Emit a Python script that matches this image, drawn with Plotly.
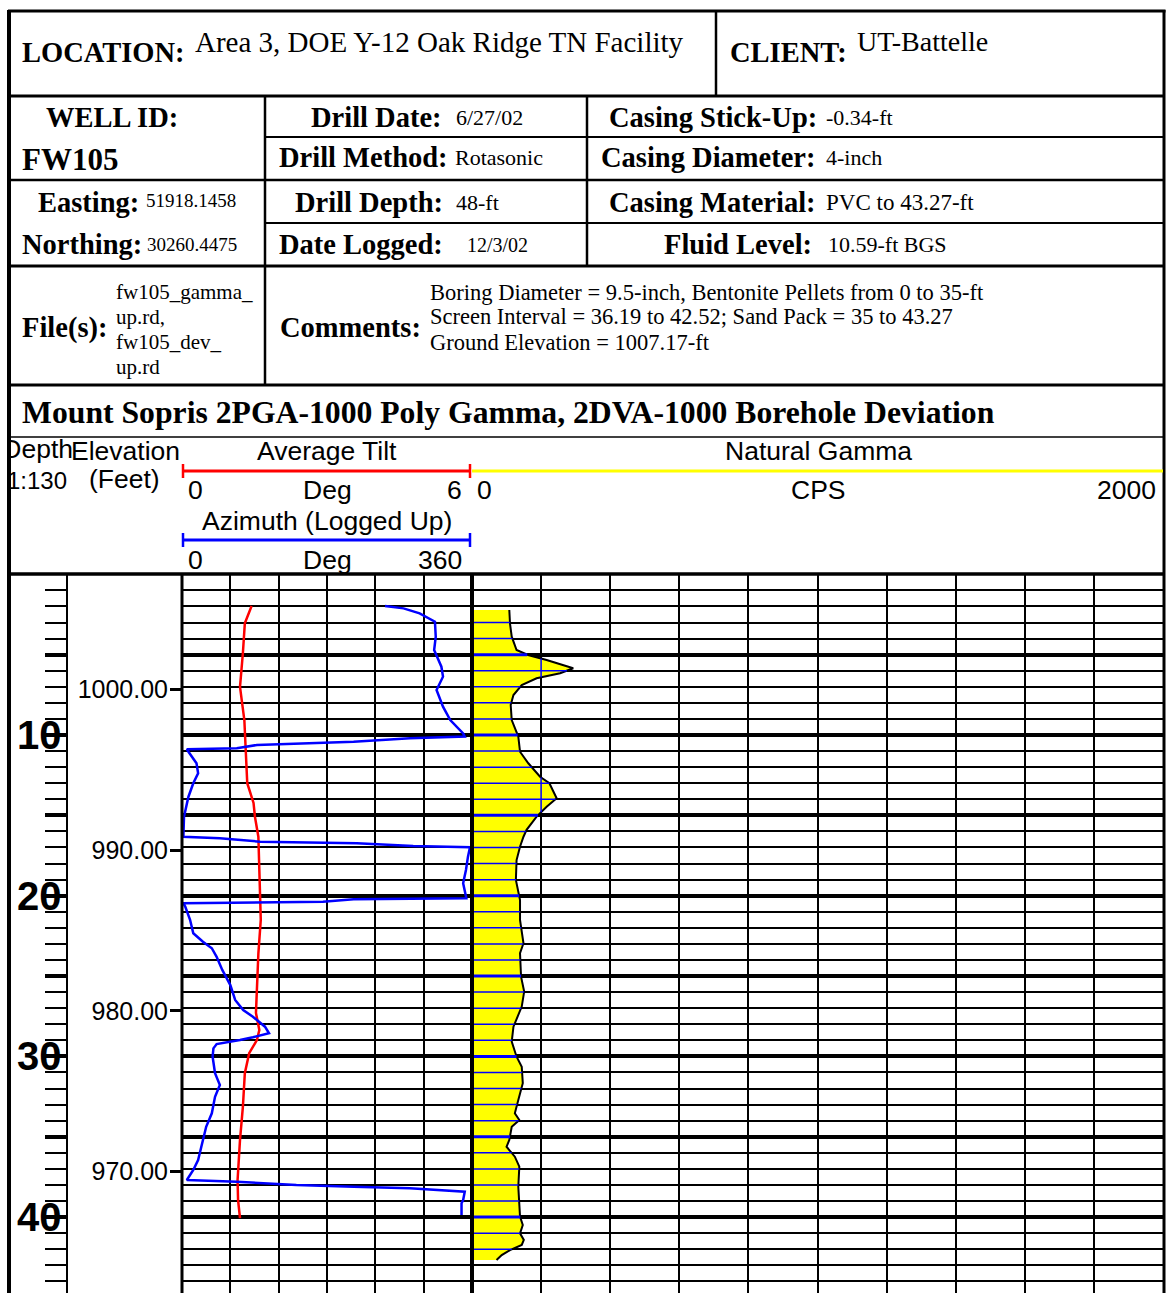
import numpy as np
import plotly.graph_objects as go

W, H = 1168, 1293
SERIF = "Liberation Serif"
SANS = "Liberation Sans"

# ---------------- header information ----------------
location = "Area 3, DOE Y-12 Oak Ridge TN Facility"
client = "UT-Battelle"
well_id = "FW105"
easting = "51918.1458"
northing = "30260.4475"
drill_date = "6/27/02"
drill_method = "Rotasonic"
drill_depth = "48-ft"
date_logged = "12/3/02"
casing_stickup = "-0.34-ft"
casing_diameter = "4-inch"
casing_material = "PVC to 43.27-ft"
fluid_level = "10.59-ft BGS"
files = ["fw105_gamma_", "up.rd,", "fw105_dev_", "up.rd"]
comments = [
    "Boring Diameter = 9.5-inch, Bentonite Pellets from 0 to 35-ft",
    "Screen Interval = 36.19 to 42.52; Sand Pack = 35 to 43.27",
    "Ground Elevation = 1007.17-ft",
]
title = "Mount Sopris 2PGA-1000 Poly Gamma, 2DVA-1000 Borehole Deviation"
ground_elevation = 1007.17

# ---------------- log curves (depth in ft below ground) ----------------
tilt_depth = [1.97, 3.05, 4.9, 7.0, 9.07, 9.7, 10.93, 13.0, 14.23, 15.1, 16.33, 18.4,
              21.5, 23.6, 25.66, 27.3, 28.36, 28.98, 29.8, 31.05, 33.13, 35.2, 37.69,
              38.94, 40.07]
tilt_deg = [1.44, 1.30, 1.26, 1.20, 1.29, 1.30, 1.32, 1.35, 1.48, 1.51, 1.58, 1.60,
            1.63, 1.58, 1.56, 1.53, 1.60, 1.55, 1.39, 1.30, 1.26, 1.20, 1.15,
            1.16, 1.20]

azimuth_depth = [1.97, 2.12, 2.43, 2.95, 3.88, 4.71, 5.75, 6.37, 7.2, 8.24, 9.07, 9.9,
                 10.1, 10.2, 10.42, 10.52, 10.62, 10.83, 10.89, 11.04, 11.76, 12.38,
                 13.0, 13.84, 15.08, 16.33, 16.43, 16.64, 16.74, 16.91, 16.99, 17.57,
                 18.4, 19.23, 20.16, 20.22, 20.37, 20.47, 20.68, 21.5, 22.34, 22.86,
                 23.27, 23.8, 24.62, 25.56, 26.49, 27.11, 27.53, 28.15, 28.56, 28.81,
                 28.98, 29.23, 29.5, 30.02, 31.05, 31.78, 32.51, 33.54, 34.38, 35.62,
                 36.45, 37.07, 37.69, 37.8, 38.0, 38.11, 38.21, 38.42, 38.94, 39.14,
                 39.87]
azimuth_deg = [252, 275, 295, 314, 315, 313, 322, 324, 316, 324, 333, 349,
               351, 283, 213, 142, 93, 68, 6, 8, 18, 20,
               14, 8, 2.5, 1.7, 47, 97, 217, 287, 357.5, 355,
               352.5, 349, 353, 213, 175, 1.7, 4, 10, 14, 26,
               37, 43, 50, 60, 66, 76, 88, 103, 108, 88,
               72, 43, 39, 38, 41, 47, 41, 37, 30, 24,
               20, 14, 6, 68, 142, 213, 283, 351, 349, 347,
               347]

gamma_depth = [2.22, 3.07, 3.88, 4.71, 5.02, 5.33, 5.85, 6.16, 6.47, 6.89, 7.51, 8.13,
               9.07, 10.1, 11.04, 11.76, 12.6, 13.0, 13.94, 14.46, 15.08, 15.9, 16.33,
               16.95, 17.78, 19.02, 20.27, 21.5, 22.96, 23.58, 25.04, 25.97, 26.9,
               28.15, 29.08, 30.02, 30.64, 31.67, 32.71, 33.54, 33.96, 34.38, 35.2,
               35.62, 36.24, 36.86, 38.11, 39.14, 39.97, 40.49, 41.01, 41.42, 41.73,
               42.05, 42.36, 42.67]
gamma_cps = [108, 110, 115, 129, 162, 216, 293, 255, 187, 144, 120, 112,
             115, 134, 139, 163, 197, 224, 245, 216, 187, 158, 149,
             139, 129, 127, 139, 139, 149, 139, 142, 151, 144,
             120, 115, 129, 144, 147, 134, 124, 137, 115, 108,
             100, 124, 137, 134, 137, 139, 147, 139, 150, 144,
             110, 86, 71]

depth_labels = [10, 20, 30, 40]
elevation_ticks = [1000, 990, 980, 970]

# ---------------- geometry ----------------
LOG_TOP = 574.3          # pixel row of depth 0
PX_PER_FT = 16.07
depth_bottom = (H - LOG_TOP) / PX_PER_FT
y_dom = [0, 1 - LOG_TOP / H]
TILT_L, TILT_R = 182, 472
GAM_L, GAM_R = 472, 1163


def px(x):
    return x / W


def py(y):
    return 1 - y / H


fig = go.Figure()

# tilt & azimuth track
fig.add_trace(go.Scatter(x=tilt_deg, y=tilt_depth, xaxis="x", yaxis="y", mode="lines",
                         line=dict(color="#ff0000", width=2.5), hoverinfo="skip"))
fig.add_trace(go.Scatter(x=azimuth_deg, y=azimuth_depth, xaxis="x2", yaxis="y", mode="lines",
                         line=dict(color="#0000ff", width=2.5), hoverinfo="skip"))

# gamma track: yellow shading to zero, black curve
fig.add_trace(go.Scatter(x=gamma_cps, y=gamma_depth, xaxis="x3", yaxis="y2", mode="lines",
                         fill="tozerox", fillcolor="#ffff00",
                         line=dict(color="black", width=2), hoverinfo="skip"))

# grid drawn in blue where it lies inside the shading
gd = np.array(gamma_depth, dtype=float)
gv = np.array(gamma_cps, dtype=float)
thin_x, thin_y, thick_x, thick_y = [], [], [], []
for d in range(int(np.ceil(gd[0])), int(np.floor(gd[-1])) + 1):
    xe = float(np.interp(d, gd, gv))
    if d % 5 == 0:
        thick_x += [0, xe, None]
        thick_y += [d, d, None]
    else:
        thin_x += [0, xe, None]
        thin_y += [d, d, None]
for lev in range(200, 2001, 200):
    above = gv > lev
    start = None
    for i in range(len(gv)):
        if above[i] and start is None:
            if i == 0:
                start = gd[0]
            else:
                t = (lev - gv[i - 1]) / (gv[i] - gv[i - 1])
                start = gd[i - 1] + t * (gd[i] - gd[i - 1])
        if not above[i] and start is not None:
            t = (lev - gv[i - 1]) / (gv[i] - gv[i - 1])
            end = gd[i - 1] + t * (gd[i] - gd[i - 1])
            thin_x += [lev, lev, None]
            thin_y += [start, end, None]
            start = None
fig.add_trace(go.Scatter(x=thin_x, y=thin_y, xaxis="x3", yaxis="y2", mode="lines",
                         line=dict(color="#0000ff", width=1.5), hoverinfo="skip"))
fig.add_trace(go.Scatter(x=thick_x, y=thick_y, xaxis="x3", yaxis="y2", mode="lines",
                         line=dict(color="#0000ff", width=3), hoverinfo="skip"))

# placeholders so the depth-tick and elevation axes are rendered
fig.add_trace(go.Scatter(x=[None], y=[None], xaxis="x4", yaxis="y3", hoverinfo="skip"))
fig.add_trace(go.Scatter(x=[None], y=[None], xaxis="x", yaxis="y4", hoverinfo="skip"))

# depth-column header words, clipped at the left frame edge (pixel units on x5/y5)
HS = 26.5
fig.add_trace(go.Scatter(x=[73], y=[451], xaxis="x5", yaxis="y5", mode="text",
                         text=["Depth"], textposition="middle left",
                         textfont=dict(family=SANS, size=HS, color="black"),
                         cliponaxis=True, hoverinfo="skip"))
fig.add_trace(go.Scatter(x=[67], y=[483], xaxis="x5", yaxis="y5", mode="text",
                         text=["1:130"], textposition="middle left",
                         textfont=dict(family=SANS, size=24, color="black"),
                         cliponaxis=True, hoverinfo="skip"))

depth_grid = dict(range=[depth_bottom, 0], domain=y_dom, tickmode="linear", tick0=0, dtick=5,
                  showgrid=True, gridcolor="black", gridwidth=3.5, zeroline=False,
                  showticklabels=False, ticks="", showline=False, fixedrange=True,
                  minor=dict(tick0=0, dtick=1, showgrid=True, gridcolor="black",
                             gridwidth=2, ticks=""))

fig.update_layout(
    width=W, height=H, margin=dict(l=0, r=0, t=0, b=0),
    paper_bgcolor="white", plot_bgcolor="white", showlegend=False,
    xaxis=dict(domain=[px(TILT_L), px(TILT_R)], range=[0, 6], dtick=1, tick0=0,
               showgrid=True, gridcolor="black", gridwidth=2, zeroline=False,
               showticklabels=False, ticks="", anchor="y", fixedrange=True),
    xaxis2=dict(overlaying="x", range=[0, 360], showgrid=False, zeroline=False,
                showticklabels=False, ticks="", anchor="y", fixedrange=True),
    xaxis3=dict(domain=[px(GAM_L), px(GAM_R)], range=[0, 2000], dtick=200, tick0=0,
                showgrid=True, gridcolor="black", gridwidth=2, zeroline=False,
                showticklabels=False, ticks="", anchor="y2", fixedrange=True),
    xaxis4=dict(domain=[px(45), px(67)], range=[0, 1], visible=False, anchor="y3",
                fixedrange=True),
    xaxis5=dict(domain=[px(10.5), px(180)], range=[10.5, 180], visible=False, anchor="y5",
                fixedrange=True),
    yaxis=dict(anchor="x", **depth_grid),
    yaxis2=dict(anchor="x3", **depth_grid),
    yaxis3=dict(anchor="x4", **depth_grid),
    yaxis4=dict(overlaying="y", anchor="free", position=px(TILT_L), side="left",
                range=[depth_bottom, 0], showgrid=False, zeroline=False,
                tickmode="array",
                tickvals=[ground_elevation - e for e in elevation_ticks],
                ticktext=[f"{e:.2f}" for e in elevation_ticks],
                ticks="outside", ticklen=12, tickwidth=3, tickcolor="black",
                ticklabelstandoff=-3,
                tickfont=dict(family=SANS, size=25, color="black"), fixedrange=True),
    yaxis5=dict(domain=[py(572), py(439)], range=[572, 439], visible=False, anchor="x5",
                fixedrange=True),
)

# ---------------- frame and table lines ----------------
def hline(y, x0, x1, w=2, color="black"):
    fig.add_shape(type="line", xref="paper", yref="paper", x0=px(x0), x1=px(x1),
                  y0=py(y), y1=py(y), line=dict(color=color, width=w), layer="above")


def vline(x, y0, y1, w=2, color="black"):
    fig.add_shape(type="line", xref="paper", yref="paper", x0=px(x), x1=px(x),
                  y0=py(y0), y1=py(y1), line=dict(color=color, width=w), layer="above")


vline(9, 10, H, 4)
vline(1164, 10, H, 3)
hline(11, 8, 1165.5, 3)
hline(96, 8, 1165, 3)
vline(716, 11, 96, 2.5)
vline(265, 96, 385, 2.5)
vline(587, 96, 266, 2.5)
hline(137, 265, 1164, 2)
hline(180, 9, 1164, 2.5)
hline(223, 265, 1164, 2)
hline(266, 9, 1164, 3)
hline(385, 9, 1164, 3)
hline(437, 9, 1164, 1.5)
hline(574, 9, 1164, 3.5)
vline(67, 574, H, 2)
vline(182, 574, H, 3)
vline(472, 574, H, 4)

# scale bars in the track header
hline(471, 183, 470, 3, "#ff0000")
vline(183, 464, 478, 2.5, "#ff0000")
vline(470, 464, 478, 2.5, "#ff0000")
hline(471, 472, 1163, 3, "#ffff00")
hline(540, 183, 470, 3, "#0000ff")
vline(183, 533, 547, 2.5, "#0000ff")
vline(470, 533, 547, 2.5, "#0000ff")


# ---------------- text ----------------
def txt(s, x, y, size, family=SERIF, bold=False, xanchor="left", yanchor="middle",
        yref="paper"):
    if bold:
        s = f"<b>{s}</b>"
    fig.add_annotation(text=s, x=px(x), y=py(y) if yref == "paper" else y,
                       xref="paper", yref=yref, showarrow=False,
                       xanchor=xanchor, yanchor=yanchor,
                       font=dict(family=family, size=size, color="black"))


LBL = 28.5
VAL = 22
txt("LOCATION:", 20, 52, LBL, bold=True)
txt(location, 193, 42, 29)
txt("CLIENT:", 728, 52, LBL, bold=True)
txt(client, 855, 42, 28)

txt("WELL ID:", 44, 117, LBL, bold=True)
txt(well_id, 20, 159, 31, bold=True)
txt("Easting:", 36, 202, LBL, bold=True)
txt(easting, 144, 201, 19)
txt("Northing:", 20, 245, LBL, bold=True)
txt(northing, 145, 244, 19)

txt("Drill Date:", 309, 117, LBL, bold=True)
txt(drill_date, 454, 117, VAL)
txt("Drill Method:", 277, 158, LBL, bold=True)
txt(drill_method, 453, 158, VAL)
txt("Drill Depth:", 293, 202, LBL, bold=True)
txt(drill_depth, 454, 202, VAL)
txt("Date Logged:", 277, 245, LBL, bold=True)
txt(date_logged, 465, 245, 20)

txt("Casing Stick-Up:", 607, 117, LBL, bold=True)
txt(casing_stickup, 824, 117, VAL)
txt("Casing Diameter:", 599, 158, LBL, bold=True)
txt(casing_diameter, 824, 158, VAL)
txt("Casing Material:", 607, 202, LBL, bold=True)
txt(casing_material, 824, 202, 23)
txt("Fluid Level:", 662, 245, LBL, bold=True)
txt(fluid_level, 826, 245, VAL)

txt("File(s):", 20, 328, LBL, bold=True)
for i, line in enumerate(files):
    txt(line, 114, 292 + 25 * i, 21)
txt("Comments:", 278, 328, LBL, bold=True)
for i, line in enumerate(comments):
    txt(line, 428, 292 + 25 * i, 22.5)

txt(title, 20, 413, 31.7, bold=True)

# track header
txt("Elevation", 125, 451, HS, SANS, xanchor="center")
txt("(Feet)", 124, 479, HS, SANS, xanchor="center")
txt("Average Tilt", 327, 451, HS, SANS, xanchor="center")
txt("0", 195, 490, HS, SANS, xanchor="center")
txt("Deg", 327, 490, HS, SANS, xanchor="center")
txt("6", 464, 490, HS, SANS, xanchor="right")
txt("Azimuth (Logged Up)", 327, 521, HS, SANS, xanchor="center")
txt("0", 195, 560, HS, SANS, xanchor="center")
txt("Deg", 327, 560, HS, SANS, xanchor="center")
txt("360", 464, 560, HS, SANS, xanchor="right")
txt("Natural Gamma", 818, 451, HS, SANS, xanchor="center")
txt("0", 484, 490, HS, SANS, xanchor="center")
txt("CPS", 818, 490, HS, SANS, xanchor="center")
txt("2000", 1158, 490, HS, SANS, xanchor="right")

# depth scale labels
for d in depth_labels:
    txt(str(d), 39, d, 40, SANS, bold=True, xanchor="center", yref="y")

fig.write_html("out.html")
